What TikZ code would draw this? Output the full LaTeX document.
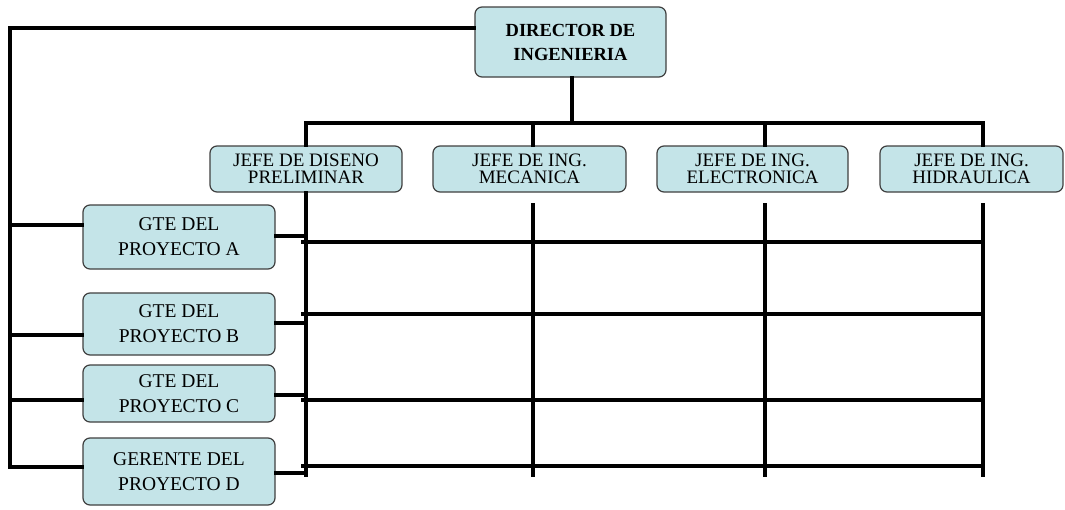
\documentclass[tikz,border=0pt]{standalone}
\usepackage{fontspec}
\setmainfont{Liberation Serif}
\begin{document}
\begin{tikzpicture}[x=1pt,y=-1pt,
  box/.style={draw=black!75, line width=1.2pt, fill=boxfill, rounded corners=7pt, inner sep=0pt, align=center},
  conn/.style={line width=3.6pt, line cap=rect},
  jtext/.style={font=\fontsize{19}{17}\selectfont},
  gtext/.style={font=\fontsize{19.5}{25}\selectfont}
]
\definecolor{boxfill}{HTML}{C4E4E8}
\useasboundingbox (0,0) rectangle (1065,509);
\fill[white] (0,0) rectangle (1065,509);

% boxes
\node[box, minimum width=191pt, minimum height=70pt, font=\bfseries\fontsize{18.5}{24}\selectfont] (dir) at (570.5,42) {DIRECTOR DE\\INGENIERIA};
\node[box, jtext, minimum width=192pt, minimum height=46pt] (j1) at (306,169) {JEFE DE DISENO\\PRELIMINAR};
\node[box, jtext, minimum width=193pt, minimum height=46pt] (j2) at (529.5,169) {JEFE DE ING.\\MECANICA};
\node[box, jtext, minimum width=191pt, minimum height=46pt] (j3) at (752.5,169) {JEFE DE ING.\\ELECTRONICA};
\node[box, jtext, minimum width=183pt, minimum height=46pt] (j4) at (971.5,169) {JEFE DE ING.\\HIDRAULICA};

\node[box, gtext, minimum width=192pt, minimum height=64pt] (gA) at (179,237) {GTE DEL\\PROYECTO A};
\node[box, gtext, minimum width=192pt, minimum height=62pt] (gB) at (179,324) {GTE DEL\\PROYECTO B};
\node[box, gtext, minimum width=192pt, minimum height=57pt] (gC) at (179,393.5) {GTE DEL\\PROYECTO C};
\node[box, gtext, minimum width=192pt, minimum height=67pt] (gD) at (179,471.5) {GERENTE DEL\\PROYECTO D};

% coordinates
\coordinate (tl) at (10,28);
\coordinate (bl) at (10,467);
\coordinate (busL) at (306,123);
\coordinate (busR) at (983,123);
\coordinate (dirB) at (572,123);
\coordinate (v1b) at (306,475);
\coordinate (v2t) at (533,205);
\coordinate (v2b) at (533,475);
\coordinate (v3t) at (765,205);
\coordinate (v3b) at (765,475);
\coordinate (v4t) at (983,205);
\coordinate (v4b) at (983,475);

% director connectors
\draw[conn] (dir.west |- tl) -- (tl) -- (bl);
\draw[conn] (dir.south -| dirB) -- (dirB);
\draw[conn] (busL) -- (busR);
\draw[conn] (busL) -- (j1.north -| busL);
\draw[conn] (j2.north -| v2t) -- (v2t |- busL);
\draw[conn] (j3.north -| v3t) -- (v3t |- busL);
\draw[conn] (j4.north -| v4t) -- (v4t |- busL);

% vertical lines
\draw[conn] (j1.south -| v1b) -- (v1b);
\draw[conn] (v2t) -- (v2b);
\draw[conn] (v3t) -- (v3b);
\draw[conn] (v4t) -- (v4b);

% left stubs
\draw[conn] (10,225) -- (gA.west |- 0,225);
\draw[conn] (10,335) -- (gB.west |- 0,335);
\draw[conn] (10,400) -- (gC.west |- 0,400);
\draw[conn] (bl) -- (gD.west |- bl);

% right stubs
\draw[conn] (gA.east |- 0,236) -- (303,236);
\draw[conn] (gB.east |- 0,323) -- (303,323);
\draw[conn] (gC.east |- 0,395) -- (303,395);
\draw[conn] (gD.east |- 0,473) -- (303,473);

% grid horizontals
\draw[conn] (303,242) -- (983,242);
\draw[conn] (303,314) -- (983,314);
\draw[conn] (303,400) -- (983,400);
\draw[conn] (303,466) -- (983,466);
\end{tikzpicture}
\end{document}
